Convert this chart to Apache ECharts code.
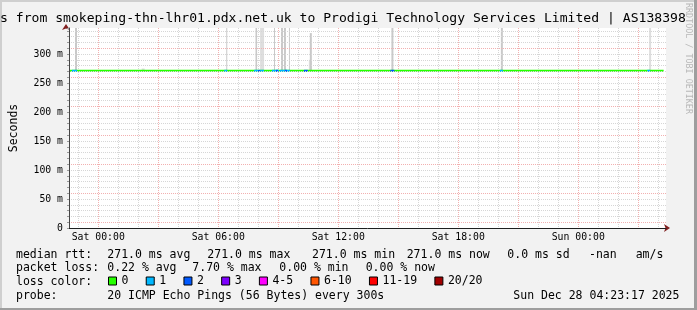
<!DOCTYPE html>
<html><head><meta charset="utf-8">
<script src="https://cdn.jsdelivr.net/npm/echarts@6/dist/echarts.min.js"></script>
<style>html,body{margin:0;padding:0;background:#f2f2f2}#c{width:697px;height:310px}</style>
</head><body><div id="c"></div><script>
// ---- data (x = hours relative to Sat 00:00, y = milliseconds) ----
const xStart = -1.612, xEnd = 28.388;
const xTickHours = [0, 6, 12, 18, 24];
const xTickLabels = ['Sat 00:00', 'Sat 06:00', 'Sat 12:00', 'Sat 18:00', 'Sun 00:00'];
const yTickValues = [0, 50, 100, 150, 200, 250, 300];
const yTickLabels = ['0', '50 m', '100 m', '150 m', '200 m', '250 m', '300 m'];
const yMax = 344.8;
const medianRtt = 271.0;
// median segments by loss bucket: [hourFrom, hourTo, rtt]
const loss0Segments = [[-1.56, 28.27, 271.0]];
const loss1Segments = [[-1.46, -1.21, 271.0], [6.19, 6.34, 271.0], [7.69, 7.89, 271.0], [7.99, 8.19, 271.0],
  [8.59, 8.94, 271.0], [8.99, 9.49, 271.0], [20.04, 20.19, 271.0], [27.44, 27.59, 271.0]];
const loss2Segments = [[7.89, 7.99, 271.0], [8.79, 8.89, 271.0], [9.24, 9.34, 271.0], [10.19, 10.39, 271.0], [14.54, 14.74, 271.0]];
// smoke (ping spread): [hourFrom, hourTo, lowMs, highMs]
const smokeDense = [[-1.31, -1.21, 271, 400], [6.29, 6.34, 271, 400], [7.76, 7.84, 271, 400],
  [8.69, 8.74, 271, 400], [9.04, 9.14, 271, 400], [9.19, 9.29, 271, 400], [9.44, 9.49, 271, 400],
  [10.49, 10.59, 271, 336], [14.59, 14.69, 271, 400], [20.09, 20.19, 271, 400]];
const smokeLight = [[2.04, 2.19, 271, 275], [7.99, 8.19, 271, 400], [10.44, 10.59, 271, 290], [27.54, 27.64, 271, 400]];
const lossNames = ['0', '1', '2', '3', '4-5', '6-10', '11-19', '20/20'];
const lossData = [loss0Segments, loss1Segments, loss2Segments, [], [], [], [], []];
const titleText = 's from smokeping-thn-lhr01.pdx.net.uk to Prodigi Technology Services Limited | AS138398';
const statRows = [
  [['median rtt:', 16], ['271.0 ms avg', 107.3], ['271.0 ms max', 207.3], ['271.0 ms min', 312], ['271.0 ms now', 406.7], ['0.0 ms sd', 507.3], ['-nan', 589], ['am/s', 635.7]],
  [['packet loss:', 16], ['0.22 % avg', 107.3], ['7.70 % max', 192.3], ['0.00 % min', 279.3], ['0.00 % now', 365.7]],
  [['loss color:', 16]],
  [['probe:', 16], ['20 ICMP Echo Pings (56 Bytes) every 300s', 107.3], ['Sun Dec 28 04:23:17 2025', 513.3]]
];
const statRowY = [255, 268.5, 282.5, 296.5];

// ---- styles ----
const MONO = '"DejaVu Sans Mono", monospace';
const lossColors = ['#26ff00', '#00b8ff', '#0059ff', '#7e00ff', '#ff00ff', '#ff5500', '#ff0000', '#a10000'];
const PINK = '#f2b0b0', GRAY = '#d6d6d6';

const chart = echarts.init(document.getElementById('c'), null, {width: 697, height: 310});

function segRender(params, api) {
  const a = api.coord([api.value(0), api.value(2)]);
  const b = api.coord([api.value(1), api.value(2)]);
  return {type: 'rect', shape: {x: a[0], y: a[1] - 1, width: Math.max(1, b[0] - a[0]), height: 2},
    style: {fill: api.visual('color')}};
}
function smokeRender(color) {
  return function (params, api) {
    const top = api.coord([api.value(0), api.value(3)]);
    const bot = api.coord([api.value(1), api.value(2)]);
    const cs = params.coordSys;
    const y0 = Math.max(top[1], cs.y);
    return {type: 'rect', shape: {x: top[0], y: y0, width: Math.max(1, bot[0] - top[0]), height: bot[1] - y0},
      style: {fill: color}};
  };
}

const series = [
  {type: 'custom', name: 'smokeLight', renderItem: smokeRender('#dedede'), data: smokeLight, encode: {x: [0, 1], y: [2, 3]}, silent: true, z: 2},
  {type: 'custom', name: 'smokeDense', renderItem: smokeRender('#c9c9c9'), data: smokeDense, encode: {x: [0, 1], y: [2, 3]}, silent: true, z: 2}
];
lossNames.forEach((n, i) => series.push({
  type: 'custom', name: n, itemStyle: {color: lossColors[i]}, renderItem: segRender,
  data: lossData[i], encode: {x: [0, 1], y: 2}, silent: true, z: 3
}));

const graphics = [
  {type: 'rect', shape: {x: 0, y: 0, width: 697, height: 2}, style: {fill: '#cfcfcf'}, silent: true},
  {type: 'rect', shape: {x: 0, y: 0, width: 2, height: 310}, style: {fill: '#cfcfcf'}, silent: true},
  {type: 'rect', shape: {x: 694, y: 0, width: 3, height: 310}, style: {fill: '#9e9e9e'}, silent: true},
  {type: 'rect', shape: {x: 0, y: 308, width: 697, height: 2}, style: {fill: '#9e9e9e'}, silent: true},
  {type: 'text', x: 688, y: 3, rotation: -Math.PI / 2,
    style: {text: 'RRDTOOL / TOBI OETIKER', font: '8.4px ' + MONO, fill: '#b8b8b8', verticalAlign: 'middle', align: 'left'}}
];
statRows.forEach((row, r) => row.forEach(([t, x]) => graphics.push({
  type: 'text', x: x, y: statRowY[r],
  style: {text: t, font: '11.5px ' + MONO, fill: '#000', verticalAlign: 'middle', align: 'left'}
})));

const arrowLine = {show: true, onZero: false, symbol: ['none', 'arrow'], symbolSize: [6, 6], symbolOffset: [0, 4],
  lineStyle: {color: '#801f1f', width: 0}};

const option = {
  backgroundColor: '#f2f2f2',
  animation: false,
  title: {text: titleText, left: 0, top: 12, padding: 0,
    textStyle: {fontFamily: MONO, fontSize: 13.1, fontWeight: 'normal', color: '#000'}},
  grid: [
    {left: 66, top: 28, width: 600, height: 200, show: true, backgroundColor: '#fff', borderWidth: 0, z: -1},
    {left: 66 + (-1 - xStart) * 20, top: 28, width: 29 * 20, height: 200, show: false},
    {left: 66, top: 28, width: 600, height: 200, show: false}
  ],
  xAxis: [
    {gridIndex: 0, type: 'value', min: xStart, max: xEnd, z: 5, position: 'bottom',
      axisLine: {show: true, onZero: false, lineStyle: {color: '#1f1f1f', width: 1}},
      axisTick: {show: false}, axisLabel: {show: false}, splitLine: {show: false}},
    {gridIndex: 1, type: 'value', min: -1, max: 28, interval: 1, z: 1, position: 'bottom',
      axisLine: {show: false}, axisTick: {show: false},
      axisLabel: {interval: 0, margin: 4, fontFamily: MONO, fontSize: 9.8, color: '#000',
        formatter: v => { const i = xTickHours.indexOf(Math.round(v)); return (i >= 0 && Math.abs(v - Math.round(v)) < 1e-6) ? xTickLabels[i] : ''; }},
      splitLine: {show: true, lineStyle: {color: [GRAY, PINK, GRAY], type: [1, 1], width: 1}}},
    {gridIndex: 2, type: 'value', min: xStart, max: xEnd, z: 4, position: 'bottom',
      axisLine: arrowLine, axisTick: {show: false}, axisLabel: {show: false}, splitLine: {show: false}}
  ],
  yAxis: [
    {gridIndex: 0, type: 'value', min: 0, max: yMax, interval: 10, z: 5, position: 'left',
      axisLine: {show: true, onZero: false, lineStyle: {color: '#444', width: 1}},
      axisTick: {show: true, interval: 0, length: 2, lineStyle: {color: '#999'}},
      axisLabel: {interval: 0, margin: 6, fontFamily: MONO, fontSize: 9.8, color: '#000',
        formatter: v => { const i = yTickValues.findIndex(t => Math.abs(t - v) < 1e-6); return i >= 0 ? yTickLabels[i] : ''; }},
      splitLine: {show: true, showMinLine: false, showMaxLine: false,
        lineStyle: {color: [PINK, GRAY, GRAY, GRAY, GRAY], type: [1, 1], width: 1}},
      name: 'Seconds', nameLocation: 'middle', nameGap: 49,
      nameTextStyle: {fontFamily: MONO, fontSize: 11.5, color: '#000'}},
    {gridIndex: 1, type: 'value', min: 0, max: yMax, show: false},
    {gridIndex: 2, type: 'value', min: 0, max: yMax, z: 4, position: 'left',
      axisLine: arrowLine, axisTick: {show: false}, axisLabel: {show: false}, splitLine: {show: false}}
  ],
  legend: {data: lossNames.map(n => ({name: n, icon: 'rect'})), left: 108, top: 275, padding: 0,
    itemWidth: 8, itemHeight: 8, itemGap: 17.3, selectedMode: false,
    itemStyle: {borderColor: '#000', borderWidth: 1},
    textStyle: {fontFamily: MONO, fontSize: 11.5, color: '#000'}},
  graphic: graphics,
  series: series
};
chart.setOption(option);
</script></body></html>
